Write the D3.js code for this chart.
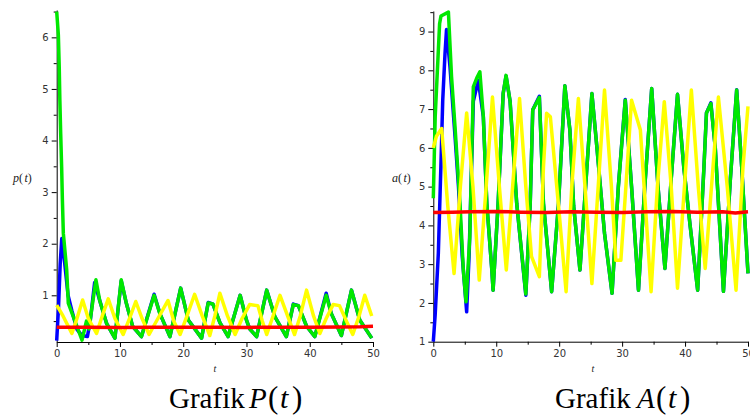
<!DOCTYPE html>
<html>
<head>
<meta charset="utf-8">
<script src="https://cdn.jsdelivr.net/npm/d3@7"></script>
<style>
  body { margin: 0; background: #fff; }
  svg { display: block; }
</style>
</head>
<body>
<svg id="chart" width="750" height="416"></svg>
<script>
// ---------- shared axis ticks ----------
const tMajor = [0, 10, 20, 30, 40, 50];
const tMinor = [5, 15, 25, 35, 45];

// ---------- P(t) panel ----------
const pMajor = [1, 2, 3, 4, 5, 6];
const pMinor = [0.5, 1.5, 2.5, 3.5, 4.5, 5.5, 6.5];

const pBlueT = [0, 0.3, 0.55, 0.8, 1.2, 1.8, 2.4, 3.2, 4.0, 4.85, 5.3, 6.0, 6.8, 7.9, 9.2, 10.2,
  11.0, 12.0, 13.4, 15.4, 16.3, 17.9, 19.6, 20.8, 22.9, 23.95, 24.7, 25.8, 27.1, 29.0, 30.0, 30.5,
  31.6, 33.2, 34.5, 36.3, 37.4, 38.2, 39.5, 40.8, 42.6, 43.4, 45.0, 46.6, 47.9, 49.8];
const pBlueV = [0.12, 0.8, 1.6, 2.1, 1.7, 1.0, 0.7, 0.34, 0.22, 0.2, 0.5, 1.25, 0.9, 0.45, 0.17, 1.28,
  0.85, 0.4, 0.2, 1.02, 0.65, 0.2, 1.14, 0.52, 0.17, 0.86, 0.83, 0.47, 0.2, 1.0, 0.52, 0.35,
  0.2, 1.1, 0.58, 0.2, 0.83, 0.8, 0.4, 0.2, 1.04, 0.65, 0.22, 1.1, 0.52, 0.17];

const pGreenT = [0, 0.26, 0.4, 0.5, 0.63, 0.78, 0.9, 1.05, 1.58, 1.83, 2.4, 3.2, 4.0, 4.7, 5.1, 6.2,
  6.8, 7.9, 9.2, 10.2, 11.0, 12.0, 13.4, 15.4, 16.3, 17.9, 19.6, 20.8, 22.9, 23.95, 24.7, 25.8,
  27.1, 29.0, 30.0, 30.5, 31.6, 33.2, 34.5, 36.3, 37.4, 38.2, 39.5, 40.8, 42.6, 43.4, 45.0, 46.6,
  47.9, 49.8];
const pGreenV = [6.5, 6.05, 5.43, 4.78, 4.14, 3.49, 2.85, 2.2, 1.49, 0.85, 0.66, 0.4, 0.13, 0.5, 0.35, 1.3,
  0.9, 0.45, 0.17, 1.3, 0.85, 0.4, 0.2, 1.0, 0.65, 0.2, 1.14, 0.52, 0.17, 0.85, 0.83, 0.47,
  0.2, 1.0, 0.52, 0.35, 0.2, 1.1, 0.58, 0.2, 0.82, 0.8, 0.4, 0.2, 1.0, 0.65, 0.22, 1.1,
  0.52, 0.17];

const pYellowT = [0, 1.0, 2.4, 3.2, 4.1, 5.0, 6.3, 7.2, 8.15, 9.2, 10.5, 11.5, 12.5, 13.5, 14.6, 16.0,
  17.6, 18.5, 19.5, 20.6, 21.8, 23.0, 24.2, 25.0, 25.8, 27.0, 28.2, 29.3, 30.5, 31.8, 32.5, 33.2,
  34.2, 35.3, 36.5, 37.6, 38.5, 39.5, 40.6, 41.6, 42.6, 43.7, 44.7, 45.8, 46.8, 47.8, 48.7, 49.8];
const pYellowV = [0.81, 0.6, 0.26, 0.55, 0.91, 0.55, 0.26, 0.6, 0.93, 0.55, 0.24, 0.55, 0.88, 0.55, 0.24, 0.55,
  0.9, 0.5, 0.24, 0.6, 1.02, 0.6, 0.22, 0.6, 1.04, 0.6, 0.24, 0.55, 0.82, 0.8, 0.5, 0.24,
  0.6, 1.0, 0.6, 0.24, 0.6, 1.1, 0.6, 0.26, 0.55, 0.82, 0.8, 0.5, 0.24, 0.6, 1.0, 0.6];

const pRedT = [0, 5, 10, 15, 20, 25, 30, 35, 40, 45, 48, 50];
const pRedV = [0.38, 0.38, 0.378, 0.38, 0.38, 0.38, 0.378, 0.38, 0.38, 0.385, 0.39, 0.4];

// ---------- A(t) panel ----------
const aMajor = [1, 2, 3, 4, 5, 6, 7, 8, 9];
const aMinor = [1.5, 2.5, 3.5, 4.5, 5.5, 6.5, 7.5, 8.5, 9.5];

const aBlueT = [0, 0.3, 0.8, 1.2, 1.5, 1.86, 2.1, 2.65, 3.45, 4.0, 4.6, 5.3, 5.7, 6.36, 7.15, 7.95,
  8.5, 9.3, 9.5, 10.3, 11.1, 11.56, 12.2, 13.25, 14.7, 15.4, 15.8, 16.85, 17.5, 18.8, 19.9, 20.9,
  21.7, 22.3, 23.3, 24.2, 25.2, 26.0, 27.2, 28.4, 29.4, 30.5, 31.5, 32.6, 33.6, 34.7, 35.7, 36.8,
  37.8, 38.8, 39.8, 40.8, 42.0, 43.0, 43.4, 44.1, 44.8, 46.1, 47.2, 48.2, 49.0, 50];
const aBlueV = [1.0, 1.7, 3.28, 5.5, 7.23, 8.43, 9.05, 8.09, 6.3, 5.0, 3.2, 1.77, 3.28, 7.2, 7.74, 6.8,
  4.57, 2.85, 2.33, 4.57, 7.4, 7.85, 7.2, 4.57, 2.2, 4.57, 6.98, 7.33, 4.57, 2.29, 4.57, 7.6,
  6.46, 4.5, 2.85, 5.0, 7.4, 6.0, 3.8, 2.25, 5.0, 7.25, 5.0, 2.33, 5.0, 7.53, 5.0, 2.89,
  5.2, 7.38, 5.5, 4.0, 2.33, 5.5, 6.9, 7.16, 6.0, 2.3, 5.2, 7.5, 5.5, 2.76];

const aGreenT = [0, 0.3, 1.0, 1.22, 2.4, 2.9, 3.45, 4.0, 4.24, 4.77, 5.2, 5.8, 6.36, 6.9, 7.4, 7.95,
  8.5, 9.3, 9.5, 10.3, 11.1, 11.56, 12.2, 13.25, 14.7, 15.4, 15.8, 16.85, 17.5, 18.8, 19.9, 20.9,
  21.7, 22.3, 23.3, 24.2, 25.2, 26.0, 27.2, 28.4, 29.4, 30.5, 31.5, 32.6, 33.6, 34.7, 35.7, 36.8,
  37.8, 38.8, 39.8, 40.8, 42.0, 43.0, 43.4, 44.1, 44.8, 46.1, 47.2, 48.2, 49.0, 50];
const aGreenV = [4.7, 6.8, 9.2, 9.4, 9.5, 7.83, 6.54, 5.17, 4.57, 2.85, 2.03, 3.7, 7.57, 7.8, 7.96, 6.8,
  4.57, 2.85, 2.33, 4.57, 7.4, 7.87, 7.2, 4.57, 2.23, 4.57, 6.98, 7.3, 4.57, 2.29, 4.57, 7.6,
  6.46, 4.5, 2.85, 5.0, 7.4, 6.0, 3.8, 2.25, 5.0, 7.23, 5.0, 2.33, 5.0, 7.53, 5.0, 2.89,
  5.2, 7.38, 5.5, 4.0, 2.33, 5.5, 6.9, 7.14, 6.0, 2.3, 5.2, 7.49, 5.5, 2.76];

const aYellowT = [0, 0.5, 1.33, 2.3, 3.3, 4.3, 5.3, 6.3, 7.3, 8.4, 9.4, 10.5, 11.6, 12.6, 13.7, 14.7,
  15.6, 16.85, 17.5, 18.0, 18.6, 19.9, 21.1, 22.0, 23.05, 24.1, 25.2, 26.2, 27.2, 28.3, 29.0, 29.8,
  30.6, 31.5, 32.9, 34.6, 35.6, 36.7, 37.8, 38.8, 39.9, 41.0, 42.1, 43.2, 44.2, 45.3, 46.7, 48.1,
  49.2, 50];
const aYellowV = [6.0, 6.3, 6.5, 4.5, 2.76, 5.0, 6.9, 5.0, 2.59, 5.0, 7.31, 5.0, 2.85, 5.0, 7.27, 5.0,
  3.2, 2.68, 5.5, 6.89, 6.8, 4.5, 2.29, 5.0, 7.27, 5.0, 2.5, 5.0, 7.49, 5.0, 3.1, 3.1,
  5.0, 7.23, 6.46, 2.29, 5.0, 7.19, 5.0, 2.38, 5.0, 7.49, 5.0, 2.89, 5.0, 7.31, 5.0, 2.33,
  5.5, 7.07];

const aRedT = [0, 3, 6, 10, 14, 18, 22, 26, 30, 34, 38, 42, 46, 48, 50];
const aRedV = [4.33, 4.34, 4.35, 4.36, 4.34, 4.33, 4.35, 4.34, 4.33, 4.35, 4.36, 4.34, 4.35, 4.32, 4.35];

// ---------- drawing ----------
const svg = d3.select("#chart");
const COLORS = { blue: "#0000ff", green: "#00e800", yellow: "#ffff00", red: "#ff0000" };
const tickFont = "DejaVu Sans, Verdana, sans-serif";
const serif = "Liberation Serif, Times New Roman, serif";

function drawPanel(cfg) {
  const x = d3.scaleLinear().domain([0, 50]).range(cfg.xRange);
  const y = d3.scaleLinear().domain(cfg.yDomain).range(cfg.yRange);
  const g = svg.append("g");

  // axes (drawn first so the curves sit over them)
  const xAxisG = g.append("g").attr("transform", `translate(0,${cfg.yRange[0]})`);
  xAxisG.call(d3.axisBottom(x).tickValues(tMajor).tickSize(5).tickSizeOuter(0).tickPadding(3)
    .tickFormat(d3.format("d")));
  xAxisG.append("g").call(d3.axisBottom(x).tickValues(tMinor).tickSize(3).tickFormat(""))
    .select(".domain").remove();

  const yAxisG = g.append("g").attr("transform", `translate(${cfg.xRange[0]},0)`);
  yAxisG.call(d3.axisLeft(y).tickValues(cfg.yMajor).tickSize(5).tickSizeOuter(0).tickPadding(3)
    .tickFormat(d3.format("d")));
  yAxisG.append("g").call(d3.axisLeft(y).tickValues(cfg.yMinor.filter(v => v >= cfg.yDomain[0] && v <= cfg.yDomain[1]))
    .tickSize(3).tickFormat(""))
    .select(".domain").remove();

  [xAxisG, yAxisG].forEach(a => {
    a.attr("color", "#000");
    a.selectAll("text").attr("fill", "#333").style("font-family", tickFont).style("font-size", "10px");
    a.selectAll("path.domain, line").attr("stroke", "#000").attr("stroke-width", 1);
  });

  // curves
  const line = d3.line().x(d => x(d[0])).y(d => y(d[1]));
  cfg.series.forEach(s => {
    g.append("path")
      .datum(d3.zip(s.t, s.v))
      .attr("d", line)
      .attr("fill", "none")
      .attr("stroke", s.color)
      .attr("stroke-width", 3.5)
      .attr("stroke-linejoin", "round");
  });

  // axis titles
  const yl = g.append("text")
    .attr("x", cfg.yLabelPos[0]).attr("y", cfg.yLabelPos[1])
    .style("font-family", serif)
    .style("font-size", "12px").attr("fill", "#222");
  yl.append("tspan").style("font-style", "italic").text(cfg.yLabel);
  yl.append("tspan").text("(");
  yl.append("tspan").style("font-style", "italic").attr("dx", 1.5).text("t");
  yl.append("tspan").text(")");

  g.append("text")
    .attr("x", cfg.tLabelPos[0]).attr("y", cfg.tLabelPos[1])
    .attr("text-anchor", "middle")
    .style("font-family", serif)
    .style("font-size", "10px").style("font-style", "italic").attr("fill", "#222")
    .text("t");

  // caption below the plot
  const cap = g.append("text")
    .attr("y", 408)
    .style("font-family", serif)
    .style("font-size", "29px").attr("fill", "#000");
  cap.append("tspan").attr("x", cfg.capX[0]).text("Grafik");
  cap.append("tspan").attr("x", cfg.capX[1]).style("font-style", "italic").text(cfg.capVar);
  cap.append("tspan").attr("x", cfg.capX[2]).style("font-size", "31px").text("(");
  cap.append("tspan").attr("x", cfg.capX[3]).style("font-style", "italic").style("font-size", "30px").text("t");
  cap.append("tspan").attr("x", cfg.capX[4]).style("font-size", "31px").text(")");
}

drawPanel({
  xRange: [56.7, 373],
  yDomain: [0.095, 6.53],
  yRange: [342, 10],
  yMajor: pMajor,
  yMinor: pMinor,
  yLabel: "p",
  yLabelPos: [13, 182],
  tLabelPos: [215, 372],
  capVar: "P",
  capX: [169, 249, 268, 280, 292],
  series: [
    { t: pBlueT, v: pBlueV, color: COLORS.blue },
    { t: pGreenT, v: pGreenV, color: COLORS.green },
    { t: pYellowT, v: pYellowV, color: COLORS.yellow },
    { t: pRedT, v: pRedV, color: COLORS.red }
  ]
});

drawPanel({
  xRange: [433.3, 748],
  yDomain: [1, 9.53],
  yRange: [341.7, 11],
  yMajor: aMajor,
  yMinor: aMinor,
  yLabel: "a",
  yLabelPos: [392, 182],
  tLabelPos: [593, 372],
  capVar: "A",
  capX: [555, 637, 656, 668, 680],
  series: [
    { t: aBlueT, v: aBlueV, color: COLORS.blue },
    { t: aGreenT, v: aGreenV, color: COLORS.green },
    { t: aYellowT, v: aYellowV, color: COLORS.yellow },
    { t: aRedT, v: aRedV, color: COLORS.red }
  ]
});
</script>
</body>
</html>
